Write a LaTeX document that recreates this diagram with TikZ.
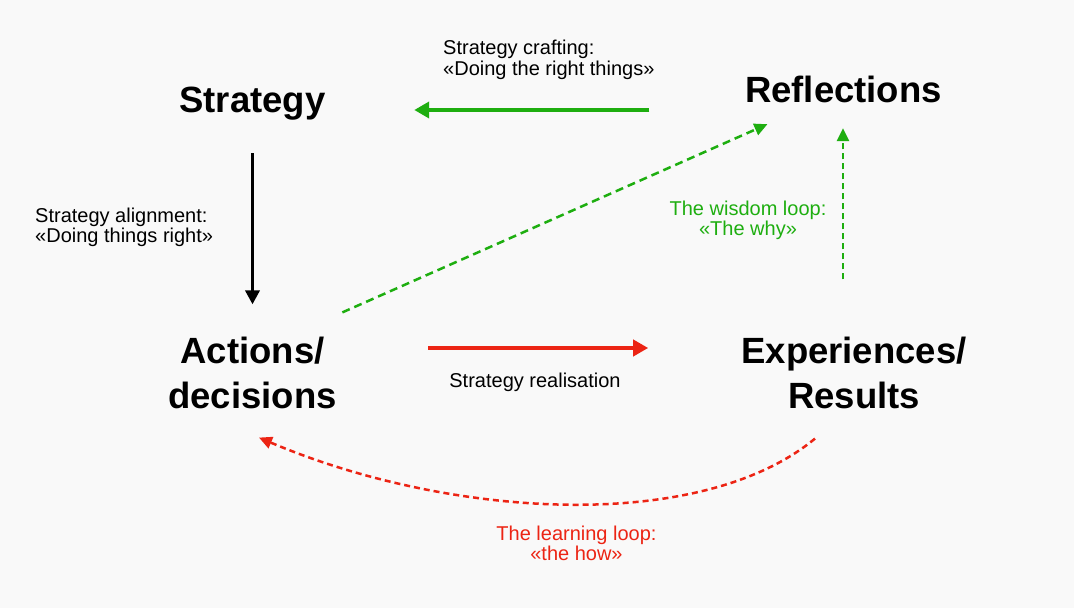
\documentclass[tikz,border=0pt]{standalone}
\usepackage{fontspec}
\setmainfont{Liberation Sans}
\usepackage{tikz}
\usetikzlibrary{positioning,arrows.meta}
\definecolor{loopgreen}{RGB}{30,174,16}
\definecolor{loopred}{RGB}{236,36,20}
\definecolor{bggray}{RGB}{249,249,249}

\begin{document}
\begin{tikzpicture}[
    x=1pt, y=1pt,
    title_box/.style={inner sep=0pt, align=center, font=\fontsize{36.5}{45}\selectfont\bfseries},
    title_line/.style={title_box, text height=26pt, text depth=8pt},
    note_box/.style={inner sep=0pt, font=\fontsize{20}{20.5}\selectfont},
    solid_arrow/.style={-{Triangle[length=15pt,width=16pt]}, line width=4pt},
    dash_arrow/.style={-{Triangle[length=13pt,width=12pt]}, line width=2.5pt, dash pattern=on 6pt off 4pt},
    craft_arrow/.style={solid_arrow, draw=loopgreen},
    align_arrow/.style={-{Triangle[length=14pt,width=14pt]}, line width=3.5pt, draw=black},
    real_arrow/.style={solid_arrow, draw=loopred},
    wisdom_arrow/.style={dash_arrow, draw=loopgreen},
    learn_arrow/.style={dash_arrow, draw=loopred}
]

\fill[bggray] (0,0) rectangle (1074,608);

% Nodes
\node (strategy) [title_line, anchor=base] at (252.5,495) {Strategy};
\node (reflections) [title_line, anchor=base] at (843.5,505) {Reflections};
\node (actions) [title_box] at (252.5,235.5) {Actions/\\decisions};
\node (results) [title_box] at (854,235.5) {Experiences/\\Results};

% Labels
\node (craftnote) [note_box, align=left, anchor=west] at (443,548.3) {Strategy crafting:\\«Doing the right things»};
\node (alignnote) [note_box, align=left, anchor=west] at (35,380.5) {Strategy alignment:\\«Doing things right»};
\node (wisdomnote) [note_box, align=center, text=loopgreen] at (748,387.8) {The wisdom loop:\\«The why»};
\node (realnote) [note_box, anchor=base] at (535,220) {Strategy realisation};
\node (learnnote) [note_box, align=center, text=loopred] at (576.5,64.6) {The learning loop:\\«the how»};

% Connections
\draw [craft_arrow, shorten <=95.5pt, shorten >=88.5pt] ([yshift=-16pt]reflections.west) -- ([yshift=-6pt]strategy.east);
\draw [align_arrow, shorten <=32pt, shorten >=32pt] (strategy.south) -- (actions.north);
\draw [real_arrow, shorten <=91.5pt, shorten >=93pt] ([yshift=24.5pt]actions.east) -- ([yshift=24.5pt]results.west);
\draw [wisdom_arrow, dash pattern=on 8pt off 5pt] ([shift={(5.5,24)}]actions.north east) -- ([shift={(22.5,-13)}]reflections.south west);
\draw [wisdom_arrow] ([xshift=-11pt,yshift=57pt]results.north) -- ([xshift=-0.5pt,yshift=-17pt]reflections.south);
\draw [learn_arrow] ([shift={(-39,-30)}]results.south) .. controls +(-115,-95) and +(191,-81) .. ([shift={(6.5,-29)}]actions.south);

\end{tikzpicture}
\end{document}
